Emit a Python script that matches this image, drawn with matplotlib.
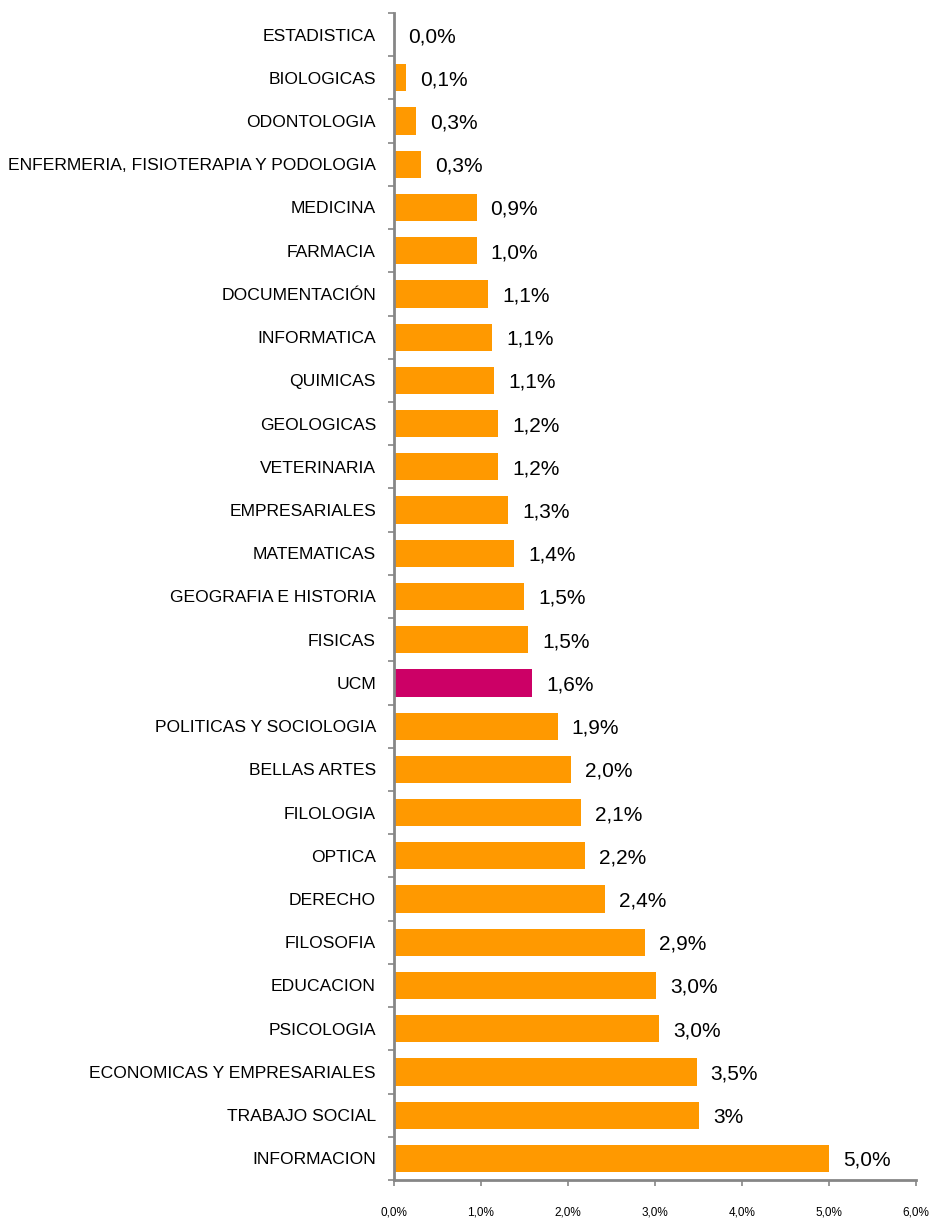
import numpy as np
import matplotlib
matplotlib.use('Agg')
import matplotlib.pyplot as plt

# datos (de arriba a abajo)
categorias = ['ESTADISTICA', 'BIOLOGICAS', 'ODONTOLOGIA', 'ENFERMERIA, FISIOTERAPIA Y PODOLOGIA',
              'MEDICINA', 'FARMACIA', 'DOCUMENTACIÓN', 'INFORMATICA', 'QUIMICAS', 'GEOLOGICAS',
              'VETERINARIA', 'EMPRESARIALES', 'MATEMATICAS', 'GEOGRAFIA E HISTORIA', 'FISICAS',
              'UCM', 'POLITICAS Y SOCIOLOGIA', 'BELLAS ARTES', 'FILOLOGIA', 'OPTICA', 'DERECHO',
              'FILOSOFIA', 'EDUCACION', 'PSICOLOGIA', 'ECONOMICAS Y EMPRESARIALES',
              'TRABAJO SOCIAL', 'INFORMACION']
valores = [0.0, 0.14, 0.25, 0.31, 0.95, 0.95, 1.08, 1.13, 1.15, 1.20, 1.20, 1.31, 1.38,
           1.50, 1.54, 1.59, 1.88, 2.04, 2.15, 2.20, 2.42, 2.88, 3.01, 3.05, 3.48, 3.51, 5.0]
etiquetas = ['0,0%', '0,1%', '0,3%', '0,3%', '0,9%', '1,0%', '1,1%', '1,1%', '1,1%', '1,2%',
             '1,2%', '1,3%', '1,4%', '1,5%', '1,5%', '1,6%', '1,9%', '2,0%', '2,1%', '2,2%',
             '2,4%', '2,9%', '3,0%', '3,0%', '3,5%', '3%', '5,0%']
ticks_x = [0, 1, 2, 3, 4, 5, 6]
ticks_x_txt = ['0,0%', '1,0%', '2,0%', '3,0%', '4,0%', '5,0%', '6,0%']

naranja = '#FF9900'
fucsia = '#CC0066'
gris = '#868686'

sans = ['Liberation Sans', 'DejaVu Sans']

fig = plt.figure(figsize=(9.32, 12.21), dpi=100)
ax = fig.add_axes([0.4227, 0.0336, 0.5601, 0.9558])

y = np.arange(len(categorias))
colores = [fucsia if c == 'UCM' else naranja for c in categorias]
ax.barh(y, valores, height=0.63, color=colores, edgecolor='none')

# etiquetas de valor
for yi, v, t in zip(y, valores, etiquetas):
    ax.annotate(t, (v, yi), xytext=(14, -2), textcoords='offset pixels',
                ha='left', va='center', fontsize=15, family=sans)

ax.set_xlim(0, 6)
ax.set_ylim(len(categorias) - 0.5, -0.5)

ax.set_xticks(ticks_x)
ax.set_xticklabels(ticks_x_txt, family=sans, fontsize=8.5)
ax.tick_params(axis='x', direction='out', length=4, width=1.2, color=gris, pad=15)

ax.set_yticks(np.arange(len(categorias) + 1) - 0.5)
ax.set_yticklabels([])
ax.set_yticks(y, minor=True)
ax.set_yticklabels(categorias, minor=True, family=sans, fontsize=12.6)
ax.tick_params(axis='y', which='major', direction='out', length=4, width=1.2, color=gris)
ax.tick_params(axis='y', which='minor', length=0, pad=13)

for s in ['top', 'right']:
    ax.spines[s].set_visible(False)
for s in ['left', 'bottom']:
    ax.spines[s].set_color(gris)
    ax.spines[s].set_linewidth(2)

fig.savefig('out.png', dpi=100)
